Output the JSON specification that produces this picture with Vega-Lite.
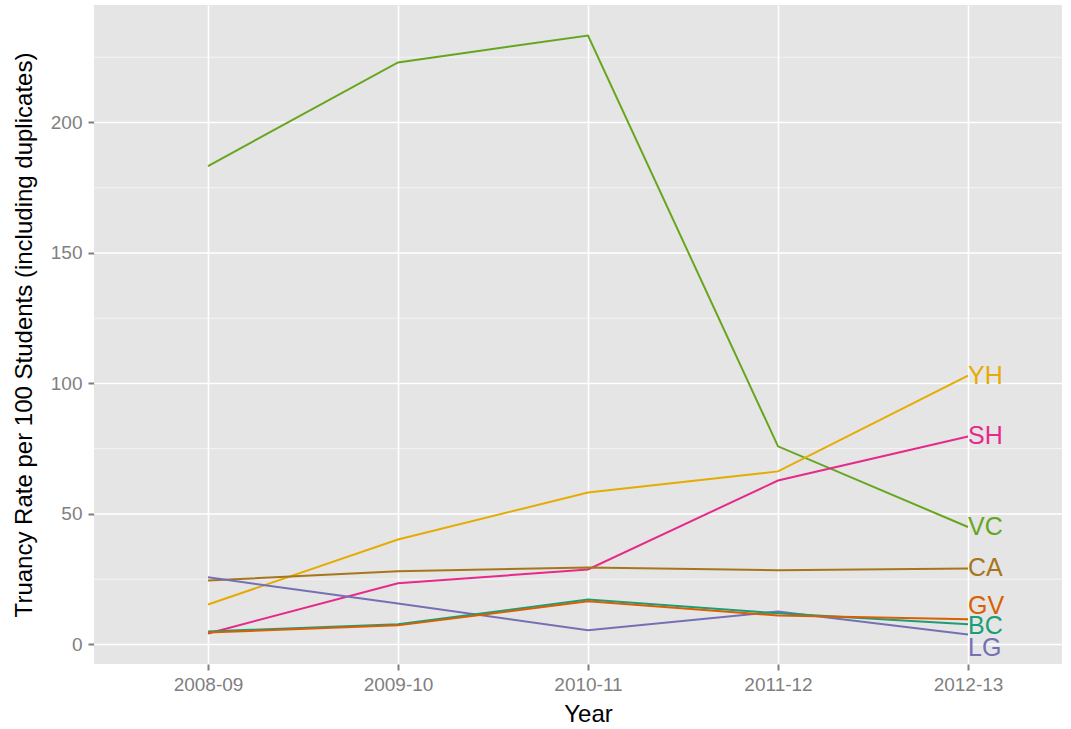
{
  "$schema": "https://vega.github.io/schema/vega-lite/v6.json",
  "autosize": {"type": "none"},
  "padding": {"left": 94, "top": 5, "right": 9, "bottom": 65},
  "width": 968,
  "height": 659,
  "background": "white",
  "config": {
    "view": {"fill": "#E5E5E5", "stroke": null},
    "axis": {
      "domain": false,
      "gridColor": "white",
      "gridWidth": 1.6,
      "tickColor": "#7F7F7F",
      "tickSize": 6,
      "tickWidth": 2,
      "labelColor": "#7F7F7F",
      "labelFontSize": 19,
      "labelFont": "Liberation Sans",
      "titleFont": "Liberation Sans",
      "titleFontSize": 24,
      "titleFontWeight": "normal",
      "titleColor": "black"
    }
  },
  "datasets": {
    "grid": [{"g": 0}, {"g": 25}, {"g": 50}, {"g": 75}, {"g": 100}, {"g": 125}, {"g": 150}, {"g": 175}, {"g": 200}, {"g": 225}],
    "rates": [
      {"s": "VC", "y": "2008-09", "v": 183.3, "ly": 45}, {"s": "VC", "y": "2009-10", "v": 223, "ly": 45}, {"s": "VC", "y": "2010-11", "v": 233.3, "ly": 45}, {"s": "VC", "y": "2011-12", "v": 75.9, "ly": 45}, {"s": "VC", "y": "2012-13", "v": 45, "ly": 45},
      {"s": "YH", "y": "2008-09", "v": 15.3, "ly": 103}, {"s": "YH", "y": "2009-10", "v": 40.2, "ly": 103}, {"s": "YH", "y": "2010-11", "v": 58.2, "ly": 103}, {"s": "YH", "y": "2011-12", "v": 66.3, "ly": 103}, {"s": "YH", "y": "2012-13", "v": 103, "ly": 103},
      {"s": "SH", "y": "2008-09", "v": 4.2, "ly": 79.7}, {"s": "SH", "y": "2009-10", "v": 23.4, "ly": 79.7}, {"s": "SH", "y": "2010-11", "v": 28.7, "ly": 79.7}, {"s": "SH", "y": "2011-12", "v": 62.8, "ly": 79.7}, {"s": "SH", "y": "2012-13", "v": 79.7, "ly": 79.7},
      {"s": "CA", "y": "2008-09", "v": 24.5, "ly": 29.1}, {"s": "CA", "y": "2009-10", "v": 28, "ly": 29.1}, {"s": "CA", "y": "2010-11", "v": 29.5, "ly": 29.1}, {"s": "CA", "y": "2011-12", "v": 28.4, "ly": 29.1}, {"s": "CA", "y": "2012-13", "v": 29.1, "ly": 29.1},
      {"s": "LG", "y": "2008-09", "v": 25.7, "ly": -1.2}, {"s": "LG", "y": "2009-10", "v": 15.7, "ly": -1.2}, {"s": "LG", "y": "2010-11", "v": 5.4, "ly": -1.2}, {"s": "LG", "y": "2011-12", "v": 12.6, "ly": -1.2}, {"s": "LG", "y": "2012-13", "v": 3.8, "ly": -1.2},
      {"s": "BC", "y": "2008-09", "v": 5, "ly": 6.9}, {"s": "BC", "y": "2009-10", "v": 7.7, "ly": 6.9}, {"s": "BC", "y": "2010-11", "v": 17.2, "ly": 6.9}, {"s": "BC", "y": "2011-12", "v": 11.9, "ly": 6.9}, {"s": "BC", "y": "2012-13", "v": 7.7, "ly": 6.9},
      {"s": "GV", "y": "2008-09", "v": 4.6, "ly": 14.6}, {"s": "GV", "y": "2009-10", "v": 7.3, "ly": 14.6}, {"s": "GV", "y": "2010-11", "v": 16.5, "ly": 14.6}, {"s": "GV", "y": "2011-12", "v": 11.1, "ly": 14.6}, {"s": "GV", "y": "2012-13", "v": 9.6, "ly": 14.6}
    ]
  },
  "layer": [
    {"data": {"name": "grid"},
      "transform": [{"filter": "datum.g % 50 !== 0"}],
      "mark": {"type": "rule", "color": "white", "strokeWidth": 0.6},
      "encoding": {"y": {"field": "g", "type": "quantitative"}}},
    {"data": {"name": "grid"},
      "transform": [{"filter": "datum.g % 50 === 0"}],
      "mark": {"type": "rule", "color": "white", "strokeWidth": 1.6},
      "encoding": {"y": {"field": "g", "type": "quantitative"}}},
    {"data": {"name": "rates"},
      "mark": {"type": "line", "strokeWidth": 2},
      "encoding": {
        "x": {"field": "y", "type": "ordinal", "title": "Year", "scale": {"type": "point", "range": [114, 874], "padding": 0},
          "axis": {"labelAngle": 0, "labelPadding": 5, "titlePadding": 8, "grid": true}},
        "y": {"field": "v", "type": "quantitative", "title": "Truancy Rate per 100 Students (including duplicates)",
          "scale": {"domain": [-7.5, 245], "nice": false, "zero": false},
          "axis": {"values": [0, 50, 100, 150, 200], "grid": false, "labelPadding": 6, "titlePadding": 14}},
        "color": {"field": "s", "type": "nominal", "legend": null,
          "scale": {"domain": ["BC", "GV", "LG", "SH", "VC", "YH", "CA"],
            "range": ["#1B9E77", "#D95F02", "#7570B3", "#E7298A", "#66A61E", "#E6AB02", "#A6761D"]}}
      }},
    {"data": {"name": "rates"},
      "transform": [{"filter": "datum.y === '2012-13'"}],
      "mark": {"type": "text", "align": "left", "baseline": "middle", "fontSize": 25, "font": "Liberation Sans"},
      "encoding": {
        "x": {"field": "y", "type": "ordinal"},
        "y": {"field": "ly", "type": "quantitative"},
        "text": {"field": "s"},
        "color": {"field": "s", "type": "nominal", "legend": null}
      }}
  ]
}
